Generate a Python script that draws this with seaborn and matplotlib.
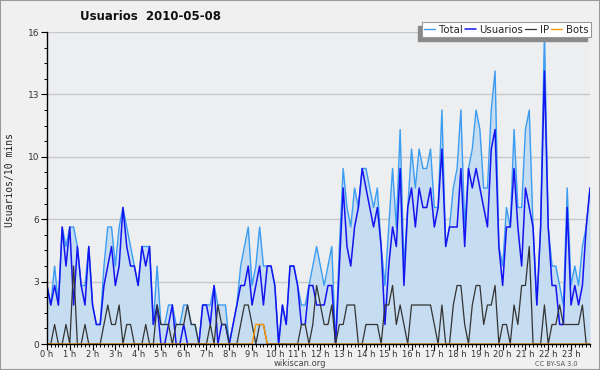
import numpy as np
import pandas as pd
import seaborn as sns
import matplotlib
matplotlib.use('Agg')
import matplotlib.pyplot as plt
from matplotlib.ticker import MultipleLocator
from matplotlib.patches import Rectangle

# Datos: un valor cada 10 minutos (0 h .. 23 h 50)
total = [3, 2, 4, 2, 6, 5, 6, 6, 5, 3,
         3, 5, 2, 1, 1, 4, 6, 6, 4, 6,
         7, 6, 5, 4, 3, 5, 5, 5, 1, 4,
         1, 1, 2, 2, 1, 1, 2, 2, 1, 1,
         0, 2, 2, 2, 3, 2, 2, 2, 0, 1,
         2, 4, 5, 6, 3, 4, 6, 4, 4, 4,
         3, 0, 2, 1, 4, 4, 3, 2, 2, 3,
         4, 5, 4, 3, 4, 5, 0, 5, 9, 7,
         6, 8, 7, 9, 9, 8, 7, 8, 5, 3,
         6, 9, 6, 11, 4, 7, 10, 8, 10, 9,
         9, 10, 7, 7, 12, 5, 6, 8, 9, 12,
         6, 9, 10, 12, 11, 8, 8, 12, 14, 5,
         4, 7, 6, 11, 7, 7, 11, 12, 6, 2,
         6, 16, 6, 4, 4, 3, 2, 8, 3, 4,
         3, 5, 6, 8]

usuarios = [3, 2, 3, 2, 6, 4, 6, 2, 5, 3,
            2, 5, 2, 1, 1, 3, 4, 5, 3, 4,
            7, 5, 4, 4, 3, 5, 4, 5, 1, 2,
            0, 0, 1, 2, 0, 0, 1, 0, 0, 0,
            0, 2, 2, 1, 3, 0, 1, 1, 0, 1,
            2, 3, 3, 4, 2, 3, 4, 2, 4, 4,
            3, 0, 2, 1, 4, 4, 3, 1, 1, 3,
            3, 2, 2, 2, 3, 3, 0, 4, 8, 5,
            4, 6, 7, 9, 8, 7, 6, 7, 5, 1,
            4, 6, 5, 9, 3, 7, 8, 6, 8, 7,
            7, 8, 6, 7, 10, 5, 6, 6, 6, 9,
            5, 9, 8, 9, 8, 7, 6, 10, 11, 5,
            3, 6, 6, 9, 6, 4, 8, 7, 6, 2,
            6, 14, 6, 3, 3, 1, 1, 7, 2, 3,
            2, 3, 6, 8]

ip = [0, 0, 1, 0, 0, 1, 0, 4, 0, 0,
      1, 0, 0, 0, 0, 1, 2, 1, 1, 2,
      0, 1, 1, 0, 0, 0, 1, 0, 0, 2,
      1, 1, 1, 0, 1, 1, 1, 2, 1, 1,
      0, 0, 0, 1, 0, 2, 1, 1, 0, 0,
      0, 1, 2, 2, 1, 0, 1, 1, 0, 0,
      0, 0, 0, 0, 0, 0, 0, 1, 1, 0,
      1, 3, 2, 1, 1, 2, 0, 1, 1, 2,
      2, 2, 0, 0, 1, 1, 1, 1, 0, 2,
      2, 3, 1, 2, 1, 0, 2, 2, 2, 2,
      2, 2, 1, 0, 2, 0, 0, 2, 3, 3,
      1, 0, 2, 3, 3, 1, 2, 2, 3, 0,
      1, 1, 0, 2, 1, 3, 3, 5, 0, 0,
      0, 2, 0, 1, 1, 2, 1, 1, 1, 1,
      1, 2, 0, 0]

bots = [0, 0, 0, 0, 0, 0, 0, 0, 0, 0,
        0, 0, 0, 0, 0, 0, 0, 0, 0, 0,
        0, 0, 0, 0, 0, 0, 0, 0, 0, 0,
        0, 0, 0, 0, 0, 0, 0, 0, 0, 0,
        0, 0, 0, 0, 0, 0, 0, 0, 0, 0,
        0, 0, 0, 0, 0, 1, 1, 1, 0, 0,
        0, 0, 0, 0, 0, 0, 0, 0, 0, 0,
        0, 0, 0, 0, 0, 0, 0, 0, 0, 0,
        0, 0, 0, 0, 0, 0, 0, 0, 0, 0,
        0, 0, 0, 0, 0, 0, 0, 0, 0, 0,
        0, 0, 0, 0, 0, 0, 0, 0, 0, 0,
        0, 0, 0, 0, 0, 0, 0, 0, 0, 0,
        0, 0, 0, 0, 0, 0, 0, 0, 0, 0,
        0, 0, 0, 0, 0, 0, 0, 0, 0, 0,
        0, 0, 0, 0]

y_ticks = [0, 3.2, 6.4, 9.6, 12.8, 16]
y_labels = ['0', '3', '6', '10', '13', '16']
x_labels = [f'{h} h' for h in range(24)]

minutos = np.arange(0, 24 * 60, 10)
df = pd.DataFrame({'hora': minutos / 60, 'Total': total, 'Usuarios': usuarios,
                   'IP': ip, 'Bots': bots})

sns.set_style('white')
plt.rcParams['font.family'] = ['DejaVu Sans']

fig = plt.figure(figsize=(6, 3.7), dpi=100, facecolor='#f0f0f0')
ax = fig.add_axes([47 / 600, 1 - 344 / 370, 543 / 600, 312 / 370])
ax.set_facecolor('#edeef0')

# Area + lineas
ax.fill_between(df['hora'], df['Total'], color='#c6dcf0', lw=0, zorder=1)
sns.lineplot(data=df, x='hora', y='Total', color='#3a9cf2', lw=1.0, ax=ax, label='Total')
sns.lineplot(data=df, x='hora', y='Usuarios', color='#1414f0', lw=1.1, ax=ax, label='Usuarios')
sns.lineplot(data=df, x='hora', y='IP', color='#333333', lw=0.9, ax=ax, label='IP')
sns.lineplot(data=df, x='hora', y='Bots', color='#ff9900', lw=1.0, ax=ax, label='Bots')

ax.set_xlim(0, df['hora'].iloc[-1])
ax.set_ylim(0, 16)
ax.set_yticks(y_ticks, y_labels)
ax.yaxis.set_minor_locator(MultipleLocator(0.8))
ax.set_xticks(range(24), x_labels)
ax.xaxis.set_minor_locator(MultipleLocator(1 / 6))
ax.set_xlabel('')
ax.set_ylabel('')
ax.grid(axis='y', color='#c8c8c8', lw=1)
ax.set_axisbelow(True)
for s in ['top', 'right']:
    ax.spines[s].set_visible(False)
for s in ['left', 'bottom']:
    ax.spines[s].set_color('black')
    ax.spines[s].set_linewidth(1.0)
ax.tick_params(which='major', length=4, width=0.8, color='black', labelsize=6.5,
               labelcolor='#333333', pad=1.5, left=True, bottom=True)
ax.tick_params(axis='x', which='major', labelsize=6, pad=0.5)
ax.tick_params(which='minor', length=2.5, width=0.7, color='black', left=True, bottom=True)

# Leyenda en una fila, arriba a la derecha, con sombra abajo a la izquierda
leg = ax.legend(loc='upper right', bbox_to_anchor=(596 / 600, 1 - 17 / 370),
                bbox_transform=fig.transFigure, ncol=4, fontsize=7.3, frameon=True,
                fancybox=False, edgecolor='#999999', facecolor='white', framealpha=1,
                handlelength=1.1, handletextpad=0.35, columnspacing=0.2, borderpad=0.25)
leg.get_frame().set_linewidth(0.8)
leg.set_zorder(10)
fig.canvas.draw()
bb = leg.get_window_extent().transformed(fig.transFigure.inverted())
ax.add_patch(Rectangle((bb.x0 - 4 / 600, bb.y0 - 4 / 370), bb.width, bb.height,
                       transform=fig.transFigure, color='#8a8a8a', zorder=9, clip_on=False))

fig.text(151 / 600, 1 - 16 / 370, 'Usuarios  2010-05-08', ha='center', va='center',
         fontsize=8.5, weight='bold', color='#111111')
fig.text(10 / 600, 1 - 180 / 370, 'Usuarios/10 mins', rotation=90, ha='center',
         va='center', fontsize=7, family='DejaVu Sans Mono', color='#222222')
fig.text(300 / 600, 1 - 363.5 / 370, 'wikiscan.org', ha='center', va='center',
         fontsize=6, color='#444444')
fig.text(556 / 600, 1 - 364 / 370, 'CC BY-SA 3.0', ha='center', va='center',
         fontsize=4.8, color='#555555')
fig.patches.append(Rectangle((0, 0), 1, 1, transform=fig.transFigure, fill=False,
                             ec='#9a9a9a', lw=1.5))

fig.savefig('out.png', dpi=100, facecolor=fig.get_facecolor())
